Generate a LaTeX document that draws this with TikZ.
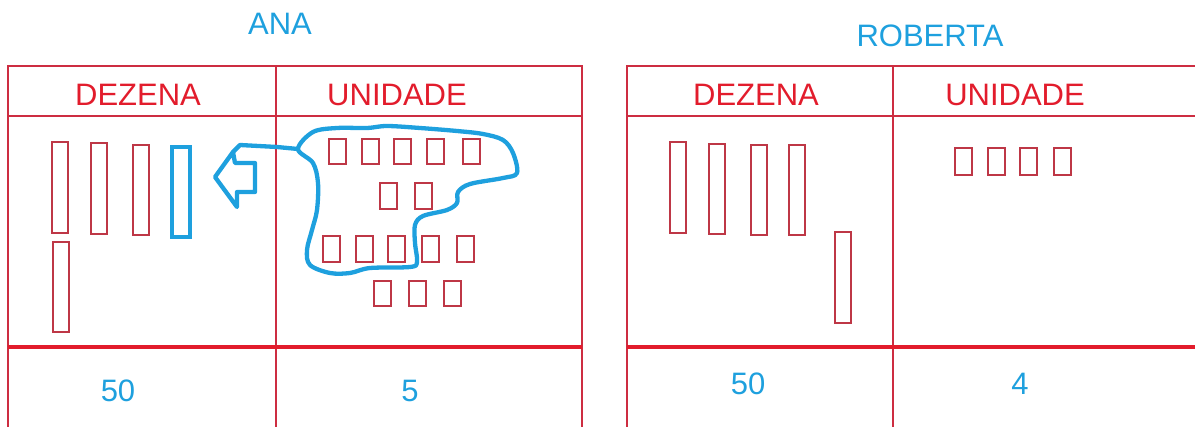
\documentclass[tikz,border=0pt]{standalone}
\usepackage{fontspec}
\setmainfont{Liberation Sans}
\definecolor{tred}{RGB}{226,28,44}
\definecolor{lred}{RGB}{205,45,65}
\definecolor{bred}{RGB}{190,55,70}
\definecolor{tblue}{RGB}{30,160,222}
\tikzset{
  x=1pt, y=-1pt,
  lbl/.style={anchor=base, inner sep=0pt, font=\fontsize{31}{36}\selectfont},
  head/.style={lbl, text=tred},
  num/.style={lbl, text=tblue},
  grid/.style={draw=lred, line width=1.4pt},
  thick line/.style={draw=tred, line width=3.8pt},
  bar/.style={draw=bred, line width=1.2pt},
  mark blue/.style={draw=tblue, line width=4.3pt, line join=round, line cap=round},
}
\begin{document}
\begin{tikzpicture}
\useasboundingbox (0,0) rectangle (1195,427);
% titles
\node[num] (ana) at (280,35) {ANA};
\node[num] (roberta) at (930,47) {ROBERTA};
% left table
\draw[grid] (8,427) -- (8,66) -- (582,66) -- (582,427);
\draw[grid] (8,116) -- (582,116);
\draw[grid] (276,66) -- (276,427);
\draw[thick line] (8,347) -- (582,347);
% right table
\draw[grid] (627,427) -- (627,66) -- (1195,66);
\draw[grid] (627,116) -- (1195,116);
\draw[grid] (893,66) -- (893,427);
\draw[thick line] (627,347) -- (1195,347);
% headers
\node[head] (dz1) at (138,106) {DEZENA};
\node[head] (un1) at (397,106) {UNIDADE};
\node[head] (dz2) at (756,106) {DEZENA};
\node[head] (un2) at (1015,106) {UNIDADE};
% numbers
\node[num] (n1) at (118,402) {50};
\node[num] (n2) at (410,402) {5};
\node[num] (n3) at (748,395) {50};
\node[num] (n4) at (1020,395) {4};
% left tens
\draw[bar] (52,142) rectangle (68,233);
\draw[bar] (91,143) rectangle (107,234);
\draw[bar] (133,145) rectangle (149,235);
\draw[bar] (53,242) rectangle (69,332);
\draw[mark blue, line join=miter] (172,147) rectangle (190,237);
% left units
\foreach \x in {329,362,394,427,463} \draw[bar] (\x,139) rectangle ++(17,25);
\foreach \x in {380,415} \draw[bar] (\x,183) rectangle ++(17,26);
\foreach \x in {323,356,388,422,457} \draw[bar] (\x,236) rectangle ++(17,26);
\foreach \x in {374,409,444} \draw[bar] (\x,281) rectangle ++(17,25);
% blob
\coordinate (blobjoin) at (298,149);
\draw[mark blue] plot[smooth cycle, tension=0.55] coordinates {
 (298,149) (313,132) (337,128) (367,128) (387,126) (420,128) (457,131) (483,134)
 (503,140) (513,153) (517,173) (503,178) (470,184) (458,192) (457,203) (447,210)
 (423,216) (415,225) (415,243) (417,262) (410,267) (370,268) (350,273) (330,273)
 (310,265) (307,250) (312,230) (317,210) (318,183) (313,163)};
% arrow
\coordinate (arrowtop) at (233,152);
\draw[mark blue] (blobjoin) -- (277,147) -- (240,145) -- (arrowtop);
\draw[mark blue] (arrowtop) -- (235,163) -- (255,163) -- (255,192) -- (237,192) -- (237,207) -- (215,177) -- cycle;
% right tens
\draw[bar] (670,142) rectangle (686,233);
\draw[bar] (709,144) rectangle (725,234);
\draw[bar] (751,145) rectangle (767,235);
\draw[bar] (789,145) rectangle (805,235);
\draw[bar] (835,232) rectangle (851,323);
% right units
\foreach \x in {955,988,1020,1054} \draw[bar] (\x,148) rectangle ++(17,27);
\end{tikzpicture}
\end{document}
